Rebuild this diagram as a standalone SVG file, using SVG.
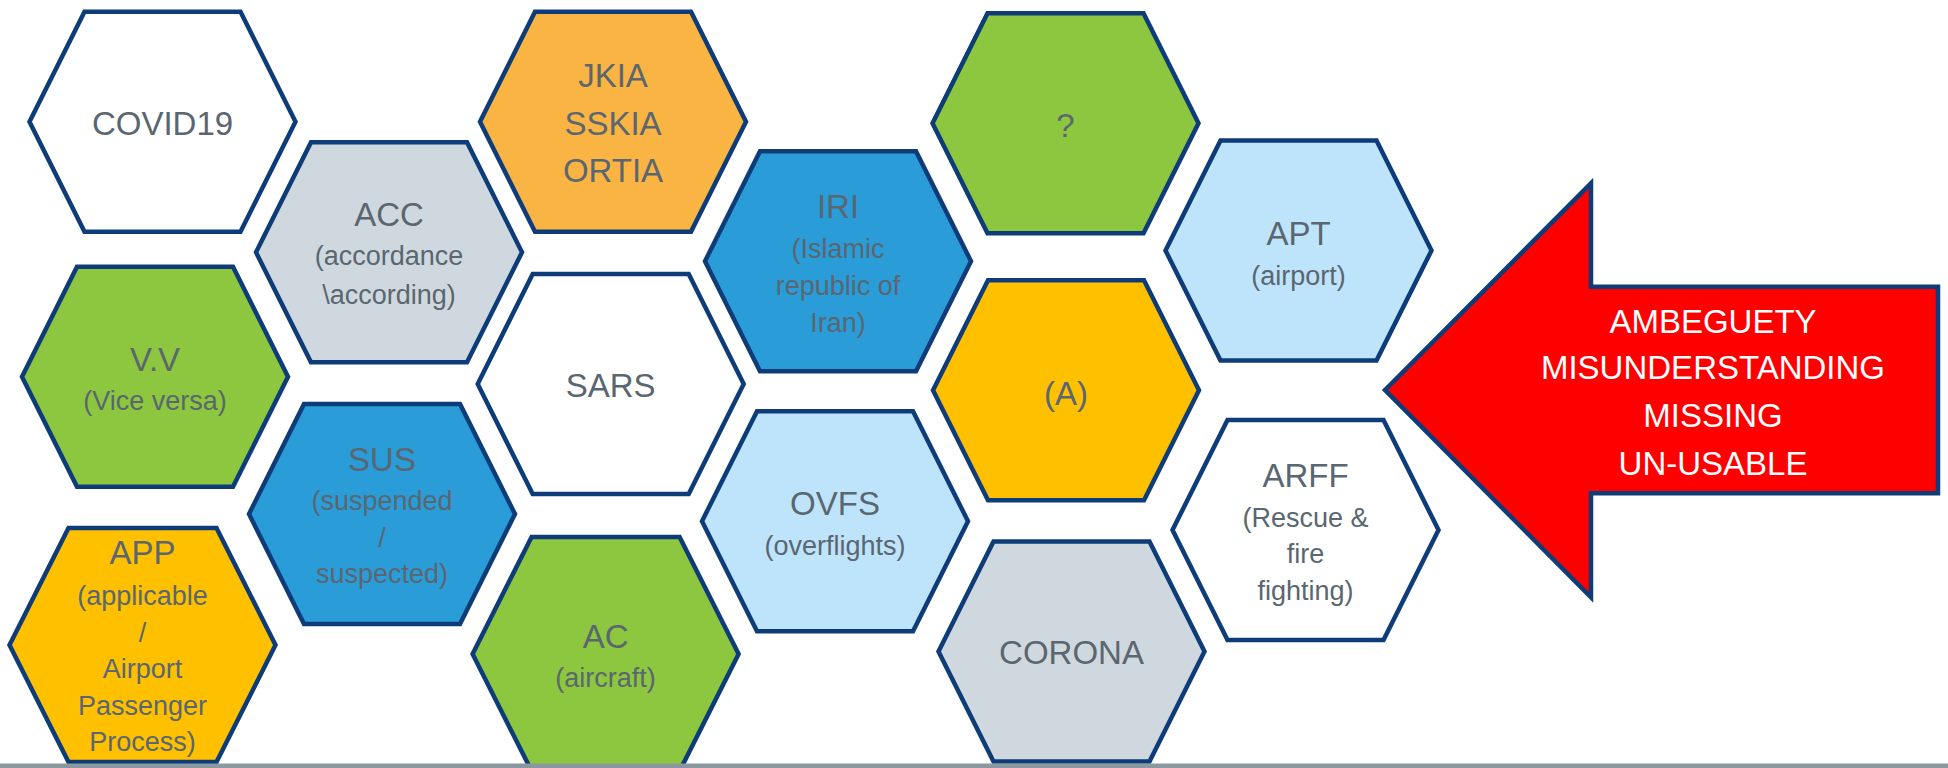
<svg xmlns="http://www.w3.org/2000/svg" xmlns:xlink="http://www.w3.org/1999/xlink" width="1948" height="768" viewBox="0 0 1948 768">
<style>
.hx{stroke:#0E3C78;stroke-width:4.5;stroke-linejoin:miter}
.white{fill:#FFFFFF}.gray{fill:#CFD8DE}.green{fill:#8DC63F}.blue{fill:#2A9CD8}
.yellow{fill:#FFC000}.orange{fill:#FAB444}.lblue{fill:#BEE4FC}
text{font-family:"Liberation Sans",Arial,sans-serif;text-anchor:middle;fill:#5A6670}
.m{font-size:33px}.s{font-size:27px}
.w{fill:#FFFFFF;font-size:33px}
</style>
<defs>
<path id="hex" d="M-133,0 L-78,-110 L78,-110 L133,0 L78,110 L-78,110Z"/>
<path id="hexT" d="M-133,0 L-74,-117 L74,-117 L133,0 L74,117 L-74,117Z"/>
</defs>
<rect width="1948" height="768" fill="#FFFFFF"/>
<g id="covid19"><use href="#hex" x="162.5" y="121.7" class="hx white"/><text class="m" x="162.5" y="135">COVID19</text></g>
<g id="acc"><use href="#hex" x="389" y="252.3" class="hx gray"/><text class="m" x="389" y="226">ACC</text><text class="s" x="389" y="265">(accordance</text><text class="s" x="389" y="304">\according)</text></g>
<g id="vv"><use href="#hex" x="155" y="376.7" class="hx green"/><text class="m" x="155" y="370.7">V.V</text><text class="s" x="155" y="410">(Vice versa)</text></g>
<g id="sus"><use href="#hex" x="382" y="514" class="hx blue"/><text class="m" x="382" y="470.7">SUS</text><text class="s" x="382" y="510">(suspended</text><text class="s" x="382" y="547">/</text><text class="s" x="382" y="583">suspected)</text></g>
<g id="app"><use href="#hexT" x="142.5" y="645" class="hx yellow"/><text class="m" x="142.5" y="564">APP</text><text class="s" x="142.5" y="605">(applicable</text><text class="s" x="142.5" y="641.5">/</text><text class="s" x="142.5" y="678">Airport</text><text class="s" x="142.5" y="714.5">Passenger</text><text class="s" x="142.5" y="751">Process)</text></g>
<g id="jkia"><use href="#hex" x="613" y="121.7" class="hx orange"/><text class="m" x="613" y="87.3">JKIA</text><text class="m" x="613" y="135">SSKIA</text><text class="m" x="613" y="182.3">ORTIA</text></g>
<g id="sars"><use href="#hex" x="610.7" y="384" class="hx white"/><text class="m" x="610.7" y="396.5">SARS</text></g>
<g id="ac"><use href="#hexT" x="605.6" y="654" class="hx green"/><text class="m" x="605.6" y="648.3">AC</text><text class="s" x="605.6" y="686.7">(aircraft)</text></g>
<g id="iri"><use href="#hex" x="838" y="261.2" class="hx blue"/><text class="m" x="838" y="218.3">IRI</text><text class="s" x="838" y="258.3">(Islamic</text><text class="s" x="838" y="295">republic of</text><text class="s" x="838" y="331.7">Iran)</text></g>
<g id="ovfs"><use href="#hex" x="835" y="521.2" class="hx lblue"/><text class="m" x="835" y="515">OVFS</text><text class="s" x="835" y="555">(overflights)</text></g>
<g id="question"><use href="#hex" x="1065.5" y="123.3" class="hx green"/><text class="m" x="1065.5" y="136.7">?</text></g>
<g id="a"><use href="#hex" x="1066" y="390.3" class="hx yellow"/><text class="m" x="1066" y="405">(A)</text></g>
<g id="corona"><use href="#hex" x="1071.5" y="651.5" class="hx gray"/><text class="m" x="1071.5" y="664">CORONA</text></g>
<g id="apt"><use href="#hex" x="1298.5" y="250.5" class="hx lblue"/><text class="m" x="1298.5" y="245">APT</text><text class="s" x="1298.5" y="285">(airport)</text></g>
<g id="arff"><use href="#hex" x="1305.5" y="530" class="hx white"/><text class="m" x="1305.5" y="487.3">ARFF</text><text class="s" x="1305.5" y="526.7">(Rescue &amp;</text><text class="s" x="1305.5" y="563.3">fire</text><text class="s" x="1305.5" y="600">fighting)</text></g>
<g id="arrow"><polygon points="1385,390 1591,183.3 1591,286.7 1938,286.7 1938,493.3 1591,493.3 1591,597.3" fill="#FF0000" stroke="#0E3C78" stroke-width="4.5" stroke-linejoin="miter"/>
<text class="w" x="1713" y="332.7">AMBEGUETY</text><text class="w" x="1713" y="379.3">MISUNDERSTANDING</text><text class="w" x="1713" y="427.3">MISSING</text><text class="w" x="1713" y="475">UN-USABLE</text></g>
<g id="connectors"></g>
<rect id="bottom-bar" x="0" y="763.5" width="1948" height="4.5" fill="#8C989F"/>
</svg>
